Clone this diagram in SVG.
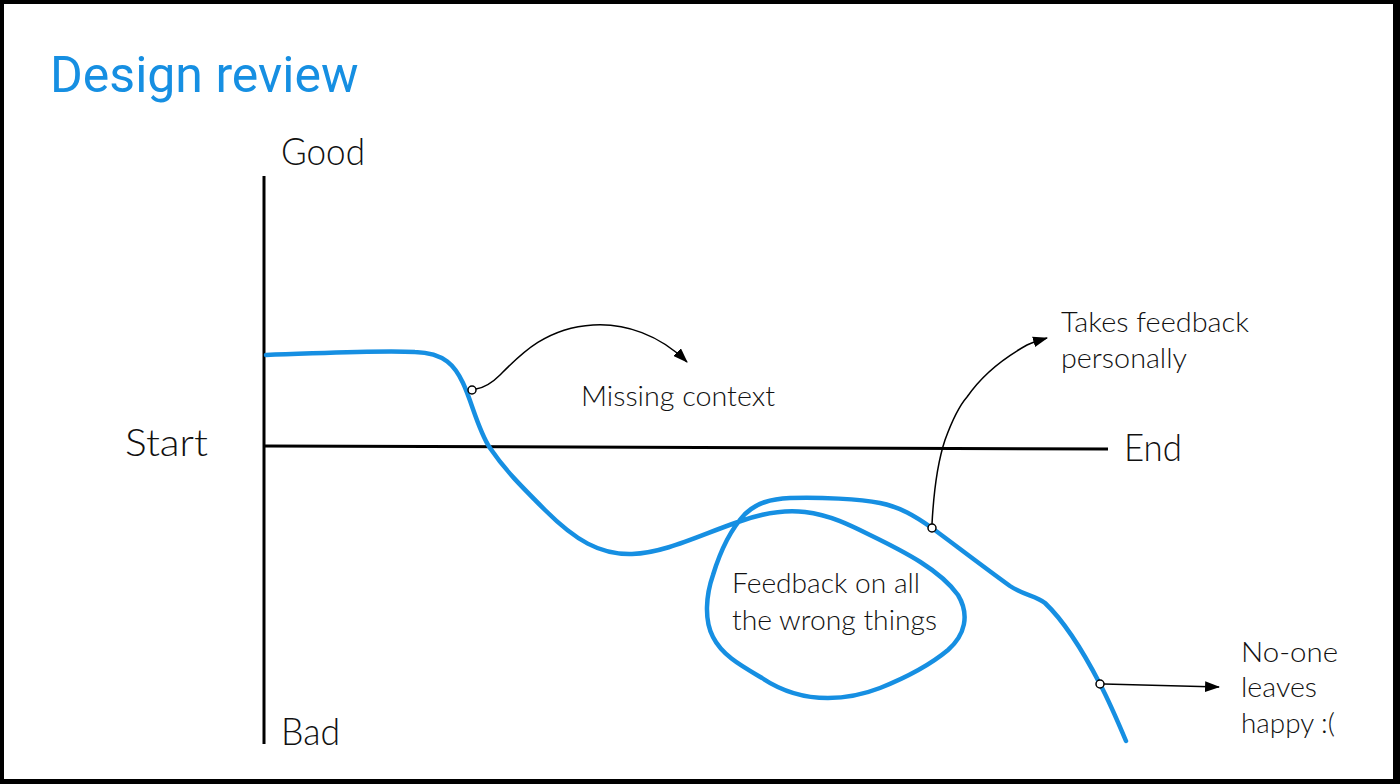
<svg xmlns="http://www.w3.org/2000/svg" width="1400" height="784" viewBox="0 0 1400 784">
<style>
.lbl{font-family:Lato,"Noto Sans","Liberation Sans",sans-serif;font-weight:300;fill:#111;}
.big{font-size:38px;}
.sm{font-size:28px;}
.axis{stroke:#000;stroke-width:3;fill:none;}
.curve{stroke:#168fe2;stroke-width:4.5;fill:none;stroke-linecap:round;stroke-linejoin:round;}
.conn{stroke:#000;stroke-width:1.5;fill:none;}
.dot{fill:#fff;stroke:#000;stroke-width:1.5;}
</style>
<defs>
<marker id="arrowL" viewBox="0 0 14 10" refX="13" refY="5" markerWidth="15" markerHeight="11" markerUnits="userSpaceOnUse" orient="auto">
<path d="M0,0 L14,5 L0,10 z" fill="#000"/>
</marker>
</defs>
<rect x="0" y="0" width="1400" height="784" fill="#000"/>
<rect x="4" y="4" width="1389" height="775" fill="#fff"/>
<g id="title">
<text x="50" y="92" font-family="Roboto,'Liberation Sans',sans-serif" font-size="50" fill="#168fe2">Design review</text>
</g>
<g id="axes">
<line class="axis" x1="264" y1="176" x2="264" y2="744"/>
<line class="axis" x1="264" y1="446" x2="1108" y2="449"/>
</g>
<g id="axis-labels">
<text class="lbl big" x="281" y="165" textLength="84" lengthAdjust="spacingAndGlyphs">Good</text>
<text class="lbl big" x="125" y="456" textLength="83" lengthAdjust="spacingAndGlyphs">Start</text>
<text class="lbl big" x="1124" y="461" textLength="58" lengthAdjust="spacingAndGlyphs">End</text>
<text class="lbl big" x="281" y="745" textLength="59" lengthAdjust="spacingAndGlyphs">Bad</text>
</g>
<g id="journey-curve">
<path class="curve" d="M266,355 C330,353 380,350 415,352 C445,353 455,366 463,383 C472,402 478,430 490,448 C505,470 520,485 545,510 C575,540 600,555 632,554 C665,553 700,535 738,522 C760,514 782,509 805,512 C830,515 850,525 870,535 C905,552 940,570 958,595 C970,615 965,635 948,650 C930,665 905,678 880,688 C862,695 845,698 828,698 C800,698 780,690 762,678 C740,665 722,655 713,637 C704,620 706,595 713,575 C720,552 730,530 745,514 C757,503 770,499 790,498 C820,497 860,499 880,503 C900,507 915,516 932,528 C955,545 985,568 1010,586 C1025,596 1035,595 1045,603 C1065,622 1085,655 1100,684 C1110,703 1118,722 1126,741"/>
</g>
<g id="connectors">
<path class="conn" d="M476,389 C482,388 490,385 500,375 C520,355 545,328 593,325 C625,323 660,335 687,362" marker-end="url(#arrowL)"/>
<path class="conn" d="M932,524 C933,505 935,470 945,440 C953,418 960,405 967,397 C980,378 1000,360 1027,345 C1033,342 1040,340 1047,338" marker-end="url(#arrowL)"/>
<path class="conn" d="M1104,684 L1219,687" marker-end="url(#arrowL)"/>
<circle class="dot" cx="472" cy="390" r="4"/>
<circle class="dot" cx="932" cy="528" r="4"/>
<circle class="dot" cx="1100" cy="684" r="4"/>
</g>
<g id="missing-context">
<text class="lbl sm" x="581" y="406" textLength="194" lengthAdjust="spacingAndGlyphs">Missing context</text>
</g>
<g id="takes-feedback">
<text class="lbl sm" x="1061" y="332" textLength="188" lengthAdjust="spacingAndGlyphs">Takes feedback</text>
<text class="lbl sm" x="1061" y="368" textLength="126" lengthAdjust="spacingAndGlyphs">personally</text>
</g>
<g id="wrong-things">
<text class="lbl sm" x="732" y="593" textLength="188" lengthAdjust="spacingAndGlyphs">Feedback on all</text>
<text class="lbl sm" x="732" y="630" textLength="205" lengthAdjust="spacingAndGlyphs">the wrong things</text>
</g>
<g id="no-one-happy">
<text class="lbl sm" x="1241" y="662" textLength="97" lengthAdjust="spacingAndGlyphs">No-one</text>
<text class="lbl sm" x="1241" y="697" textLength="76" lengthAdjust="spacingAndGlyphs">leaves</text>
<text class="lbl sm" x="1241" y="733" textLength="94" lengthAdjust="spacingAndGlyphs">happy :(</text>
</g>
</svg>
